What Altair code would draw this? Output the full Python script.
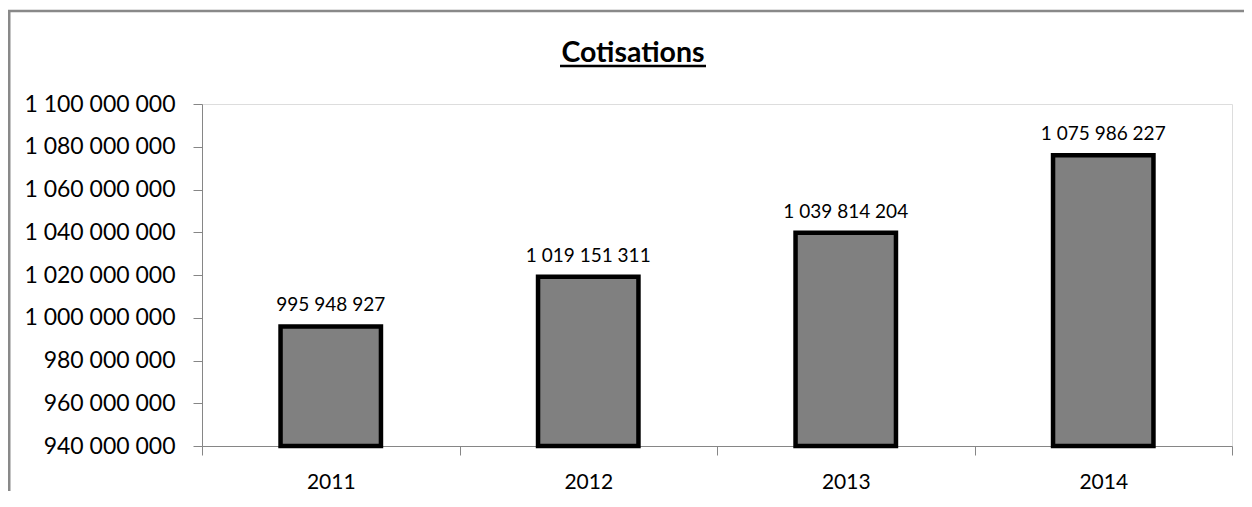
import altair as alt
import pandas as pd

years = ["2011", "2012", "2013", "2014"]
cotisations = [995948927, 1019151311, 1039814204, 1075986227]
y_ticks = [940000000, 960000000, 980000000, 1000000000, 1020000000,
           1040000000, 1060000000, 1080000000, 1100000000]
title_text = "Cotisations"

df = pd.DataFrame({"annee": years, "valeur": cotisations})
one = pd.DataFrame({"k": [0]})

FONT = "Lato"
fmt = "replace(format(datum.value, ','), /,/g, ' ')"

x_enc = alt.X("annee:N", sort=years, title=None,
              scale=alt.Scale(paddingInner=0, paddingOuter=0),
              axis=alt.Axis(labelAngle=0, tickBand="extent", tickSize=9,
                            tickColor="#868686", domainColor="#868686",
                            labelFontSize=21, labelFont=FONT, labelColor="#000",
                            labelPadding=16, grid=False))
y_enc = alt.Y("valeur:Q", title=None,
              scale=alt.Scale(domain=[y_ticks[0], y_ticks[-1]], zero=False, nice=False),
              axis=alt.Axis(values=y_ticks, labelExpr=fmt, tickSize=9,
                            tickColor="#868686", domainColor="#868686",
                            labelFontSize=23, labelFont=FONT, labelColor="#000",
                            labelPadding=18, grid=False))

bars = alt.Chart(df).mark_bar(
    width=alt.RelativeBandSize(0.39), color="#808080", stroke="#000", strokeWidth=4.5
).encode(x=x_enc, y=y_enc, y2=alt.datum(y_ticks[0]))

labels = alt.Chart(df).transform_calculate(
    lab="replace(format(datum.valeur, ','), /,/g, ' ')"
).mark_text(font=FONT, fontSize=19, color="#000", baseline="alphabetic", dy=-15).encode(
    x=alt.X("annee:N", sort=years), y="valeur:Q", text="lab:N")

title = alt.Chart(one).mark_text(
    text=title_text, font=FONT, fontSize=28.5, fontWeight="bold", color="#000",
    align="center", baseline="alphabetic"
).encode(x=alt.value(431), y=alt.value(-42))

underline = alt.Chart(one).mark_rule(color="#000", strokeWidth=2.5).encode(
    x=alt.value(358), x2=alt.value(504), y=alt.value(-38))

frame_top = alt.Chart(one).mark_rule(color="#898989", strokeWidth=2.5).encode(
    x=alt.value(-194), x2=alt.value(1042), y=alt.value(-93))
frame_left = alt.Chart(one).mark_rect(color="#898989", strokeWidth=0).encode(
    x=alt.value(-194), x2=alt.value(-191.5), y=alt.value(-94), y2=alt.value(387))

chart = alt.layer(frame_top, frame_left, bars, labels, title, underline).properties(
    width=1030, height=342,
    autosize=alt.AutoSizeParams(type="none"),
    padding={"left": 194, "top": 96, "right": 12, "bottom": 45},
).configure_view(stroke="#000", strokeWidth=1).configure(background="white")

chart.save("out.html", embed_options={"renderer": "svg", "actions": False})
